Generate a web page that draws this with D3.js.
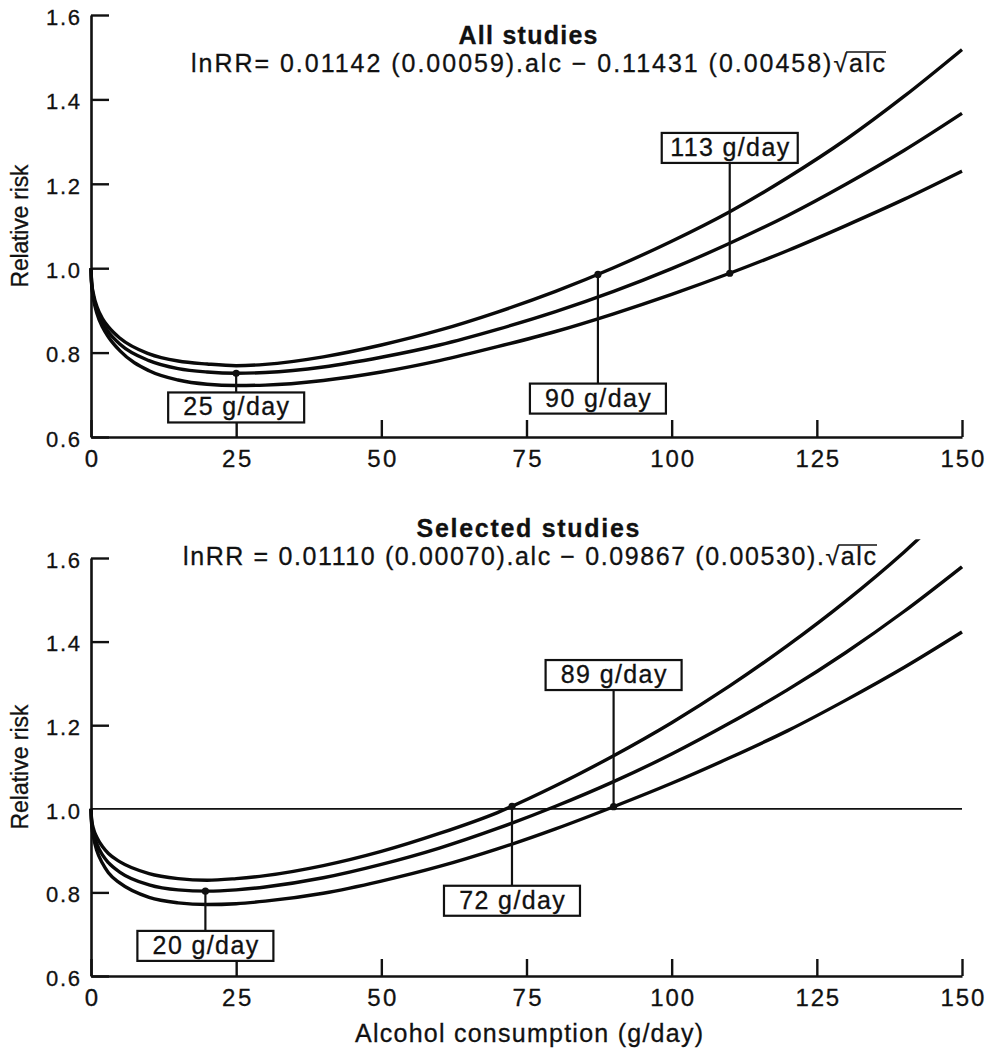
<!DOCTYPE html>
<html>
<head>
<meta charset="utf-8">
<script src="https://cdn.jsdelivr.net/npm/d3@7"></script>
<style>
  body { margin: 0; background: #fff; }
  text { font-family: "Liberation Sans", Arial, Helvetica, sans-serif; fill: #111; stroke: #111; stroke-width: 0.3px; }
</style>
</head>
<body>
<svg id="chart" width="985" height="1050"></svg>
<script>
// alcohol consumption (g/day) where the curves were read
const alcohol = [0, 0.1, 0.5, 1, 2, 3, 5, 10, 15, 20, 25, 30, 40, 50, 60, 70, 80, 90, 100, 110, 120, 130, 140, 150];

// All studies: relative risk, fitted curve and its two confidence bounds
const allMid   = [1.000, 0.966, 0.928, 0.902, 0.870, 0.849, 0.820, 0.781, 0.762, 0.754, 0.751, 0.753, 0.766, 0.789, 0.818, 0.855, 0.897, 0.945, 0.999, 1.059, 1.125, 1.199, 1.279, 1.367];
const allUpper = [1.000, 0.969, 0.934, 0.910, 0.880, 0.861, 0.834, 0.797, 0.780, 0.773, 0.769, 0.772, 0.790, 0.818, 0.853, 0.896, 0.945, 1.001, 1.064, 1.134, 1.215, 1.305, 1.407, 1.518];
const allLower = [1.000, 0.963, 0.922, 0.894, 0.860, 0.837, 0.804, 0.757, 0.735, 0.725, 0.722, 0.723, 0.734, 0.754, 0.781, 0.814, 0.850, 0.892, 0.938, 0.988, 1.042, 1.101, 1.163, 1.230];

// Selected studies
const selMid   = [1.000, 0.970, 0.938, 0.916, 0.889, 0.871, 0.848, 0.818, 0.806, 0.803, 0.806, 0.813, 0.835, 0.867, 0.906, 0.953, 1.006, 1.065, 1.131, 1.205, 1.285, 1.374, 1.472, 1.579];
const selUpper = [1.000, 0.975, 0.949, 0.932, 0.909, 0.893, 0.873, 0.845, 0.833, 0.829, 0.833, 0.840, 0.864, 0.898, 0.941, 0.991, 1.055, 1.127, 1.206, 1.294, 1.391, 1.497, 1.614, 1.745];
const selLower = [1.000, 0.965, 0.927, 0.900, 0.869, 0.847, 0.822, 0.788, 0.775, 0.771, 0.773, 0.779, 0.798, 0.827, 0.862, 0.904, 0.952, 1.005, 1.061, 1.122, 1.187, 1.260, 1.338, 1.423];

// annotations: where the marker sits, which curve, its text and box level (relative risk)
const allMarkerX     = [25, 87.3, 110];
const allMarkerCurve = ['mid', 'upper', 'lower'];
const allMarkerText  = ['25 g/day', '90 g/day', '113 g/day'];
const allBoxLevel    = [0.670, 0.691, 1.285];

const selMarkerX     = [19.7, 72.5, 90];
const selMarkerCurve = ['mid', 'upper', 'lower'];
const selMarkerText  = ['20 g/day', '72 g/day', '89 g/day'];
const selBoxLevel    = [0.672, 0.780, 1.320];

const xTicks = [0, 25, 50, 75, 100, 125, 150];
const yTicks = [0.6, 0.8, 1.0, 1.2, 1.4, 1.6];
const yDomain = [0.6, 1.6];
const curveCap = 1.645; // upper curve is cut off just above the plot

const svg = d3.select('#chart');
const x = d3.scaleLinear().domain([0, 150]).range([91, 962]);

const panels = [
  {
    id: 'all', top: 15, bottom: 437,
    title: 'All studies', titleY: 44, titleLen: 139,
    eq: 'lnRR= 0.01142 (0.00059).alc \u2212 0.11431 (0.00458)', eqX: 191, eqY: 72, eqLen: 694,
    curves: { mid: allMid, upper: allUpper, lower: allLower },
    markers: allMarkerX.map((d, i) => ({ x: d, curve: allMarkerCurve[i], text: allMarkerText[i], level: allBoxLevel[i] })),
    refLine: null, yTitleLen: 123
  },
  {
    id: 'sel', top: 558, bottom: 976,
    title: 'Selected studies', titleY: 537, titleLen: 223,
    eq: 'lnRR = 0.01110 (0.00070).alc \u2212 0.09867 (0.00530).', eqX: 183, eqY: 565, eqLen: 693,
    curves: { mid: selMid, upper: selUpper, lower: selLower },
    markers: selMarkerX.map((d, i) => ({ x: d, curve: selMarkerCurve[i], text: selMarkerText[i], level: selBoxLevel[i] })),
    refLine: 1.0, yTitleLen: 125
  }
];

/**
 * Find the point on a drawn path whose x equals tx
 */
function pointAtX(node, tx) {
  let lo = 0, hi = node.getTotalLength();
  for (let i = 0; i < 40; i++) {
    const m = (lo + hi) / 2;
    if (node.getPointAtLength(m).x < tx) lo = m; else hi = m;
  }
  return node.getPointAtLength(lo);
}

panels.forEach(p => {
  const y = d3.scaleLinear().domain(yDomain).range([p.bottom, p.top]);
  const g = svg.append('g').attr('class', `panel-${p.id}`);

  // reference line at RR = 1
  if (p.refLine !== null) {
    g.append('line')
      .attr('x1', x(0)).attr('x2', x(150))
      .attr('y1', y(p.refLine)).attr('y2', y(p.refLine))
      .attr('stroke', '#111').attr('stroke-width', 1.8);
  }

  // axes
  const yAxis = g.append('g')
    .attr('transform', `translate(${x(0)},0)`)
    .call(d3.axisLeft(y).tickValues(yTicks).tickFormat(d3.format('.1f'))
      .tickSize(-18).tickSizeOuter(0).tickPadding(11));
  const xAxis = g.append('g')
    .attr('transform', `translate(0,${y(0.6)})`)
    .call(d3.axisBottom(x).tickValues(xTicks)
      .tickSize(-17).tickSizeOuter(0).tickPadding(13));

  [yAxis, xAxis].forEach(ax => {
    ax.select('.domain').attr('stroke', '#111').attr('stroke-width', 2.6);
    ax.selectAll('.tick line').attr('stroke', '#111').attr('stroke-width', 2.4);
    ax.selectAll('.tick text').attr('fill', '#111')
      .style('font-family', '"Liberation Sans", Arial, sans-serif');
  });
  yAxis.selectAll('.tick text')
    .attr('font-size', 22).attr('dy', '0.42em')
    .attr('textLength', 34).attr('lengthAdjust', 'spacing');
  xAxis.selectAll('.tick text')
    .attr('font-size', 24)
    .each(function(d) {
      const n = String(d).length;
      if (n > 1) d3.select(this).attr('textLength', n * 14.6).attr('lengthAdjust', 'spacing');
    });
  yAxis.selectAll('.tick').filter(d => p.refLine !== null && d === p.refLine).select('line').remove();

  // curves
  const clipId = `clip-${p.id}`;
  g.append('clipPath').attr('id', clipId)
    .append('rect')
    .attr('x', x(0) - 5).attr('width', x(150) - x(0) + 10)
    .attr('y', y(curveCap)).attr('height', y(0.6) - y(curveCap));

  const line = d3.line()
    .x((d, i) => x(alcohol[i]))
    .y(d => y(d))
    .curve(d3.curveMonotoneX);

  const paths = {};
  ['upper', 'mid', 'lower'].forEach(k => {
    paths[k] = g.append('path')
      .datum(p.curves[k])
      .attr('d', line)
      .attr('fill', 'none')
      .attr('stroke', '#0a0a0a')
      .attr('stroke-width', 3.4)
      .attr('clip-path', `url(#${clipId})`);
  });

  // markers with labelled boxes
  const boxW = 136, boxH = 30;
  p.markers.forEach(m => {
    const px = x(m.x);
    const pt = pointAtX(paths[m.curve].node(), px);
    const by = y(m.level);
    g.append('line')
      .attr('x1', px).attr('x2', px)
      .attr('y1', pt.y).attr('y2', by)
      .attr('stroke', '#111').attr('stroke-width', 2.2);
    g.append('circle')
      .attr('cx', px).attr('cy', pt.y).attr('r', 3.6)
      .attr('fill', '#111');
    g.append('rect')
      .attr('x', px - boxW / 2).attr('y', by - boxH / 2)
      .attr('width', boxW).attr('height', boxH)
      .attr('fill', '#fff').attr('stroke', '#111').attr('stroke-width', 2.2);
    g.append('text')
      .attr('x', px).attr('y', by + 8)
      .attr('text-anchor', 'middle')
      .attr('font-size', 25)
      .attr('textLength', m.text.length * 13.2)
      .attr('lengthAdjust', 'spacing')
      .text(m.text);
  });

  // title and equation
  g.append('text')
    .attr('x', 528).attr('y', p.titleY)
    .attr('text-anchor', 'middle')
    .attr('font-size', 25).attr('font-weight', 'bold')
    .attr('textLength', p.titleLen).attr('lengthAdjust', 'spacing')
    .text(p.title);

  const eq = g.append('text')
    .attr('x', p.eqX).attr('y', p.eqY)
    .attr('font-size', 25)
    .attr('textLength', p.eqLen).attr('lengthAdjust', 'spacing');
  eq.append('tspan').text(p.eq);
  eq.append('tspan').text('\u221A');
  eq.append('tspan').text('alc');
  const eqNode = eq.node();
  const nChars = eqNode.getNumberOfChars();
  const rootIdx = nChars - 4;
  const ox1 = eqNode.getEndPositionOfChar(rootIdx).x - 1;
  const ox2 = eqNode.getEndPositionOfChar(nChars - 1).x + 1;
  g.append('line')
    .attr('x1', ox1).attr('x2', ox2)
    .attr('y1', p.eqY - 20).attr('y2', p.eqY - 20)
    .attr('stroke', '#111').attr('stroke-width', 1.6);

  // y axis title
  const cy = (p.top + p.bottom) / 2;
  g.append('text')
    .attr('transform', `translate(28,${cy}) rotate(-90)`)
    .attr('text-anchor', 'middle')
    .attr('font-size', 23)
    .attr('textLength', p.yTitleLen).attr('lengthAdjust', 'spacing')
    .text('Relative risk');
});

// x axis title
svg.append('text')
  .attr('x', 529).attr('y', 1042)
  .attr('text-anchor', 'middle')
  .attr('font-size', 25)
  .attr('textLength', 348).attr('lengthAdjust', 'spacing')
  .text('Alcohol consumption (g/day)');
</script>
</body>
</html>
